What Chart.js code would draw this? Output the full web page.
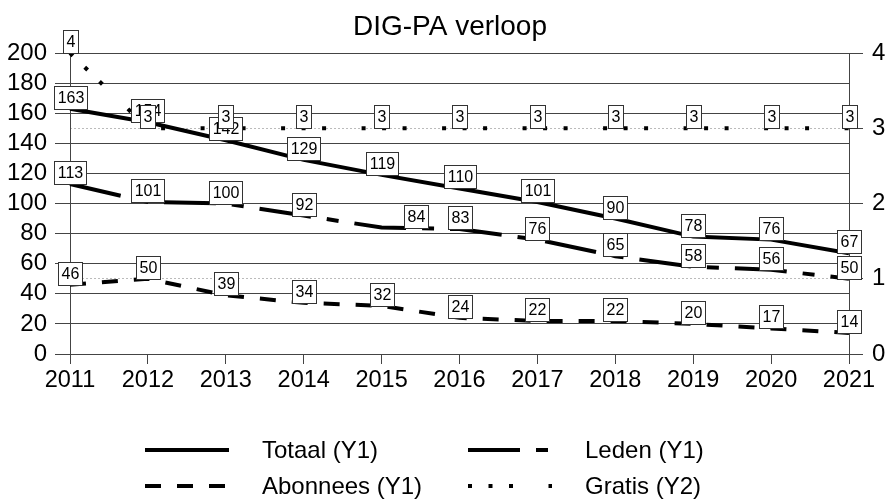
<!DOCTYPE html>
<html>
<head>
<meta charset="utf-8">
<script src="https://cdn.jsdelivr.net/npm/chart.js@4.4.1/dist/chart.umd.min.js"></script>
<style>
  html, body { margin: 0; padding: 0; background: #fff; }
  #wrap { width: 887px; height: 499px; }
</style>
</head>
<body>
<div id="wrap"><canvas id="myChart" width="887" height="499"></canvas></div>
<script>
// data
var years = ["2011", "2012", "2013", "2014", "2015", "2016", "2017", "2018", "2019", "2020", "2021"];
var totaal = [163, 154, 142, 129, 119, 110, 101, 90, 78, 76, 67];
var leden = [113, 101, 100, 92, 84, 83, 76, 65, 58, 56, 50];
var abonnees = [46, 50, 39, 34, 32, 24, 22, 22, 20, 17, 14];
var gratis = [4, 3, 3, 3, 3, 3, 3, 3, 3, 3, 3];
var leftTicks = [0, 20, 40, 60, 80, 100, 120, 140, 160, 180, 200];
var rightTicks = [0, 1, 2, 3, 4];

var FONT = '"Liberation Sans", Arial, sans-serif';
var GRID = '#444';

// one value label is nudged sideways in the original
var labelShift = { 'Leden (Y1)': { 4: 34 } };

var boxLabels = {
    id: 'boxLabels',
    afterDatasetsDraw: function (chart) {
        var ctx = chart.ctx;
        ctx.save();
        ctx.font = '16px ' + FONT;
        ctx.textAlign = 'center';
        ctx.textBaseline = 'middle';
        chart.data.datasets.forEach(function (ds, i) {
            var meta = chart.getDatasetMeta(i);
            var shift = labelShift[ds.label] || {};
            meta.data.forEach(function (pt, j) {
                var txt = String(ds.data[j]);
                var w = Math.round(ctx.measureText(txt).width + 6);
                var h = 23;
                var x = Math.round(pt.x + (shift[j] || 0) - w / 2);
                var y = Math.round(pt.y - h);
                ctx.fillStyle = '#fff';
                ctx.fillRect(x, y, w, h);
                ctx.strokeStyle = '#333';
                ctx.lineWidth = 1;
                ctx.strokeRect(x + 0.5, y + 0.5, w, h);
                ctx.fillStyle = '#000';
                ctx.fillText(txt, x + w / 2 + 0.5, y + h / 2 + 1.5);
            });
        });
        ctx.restore();
    }
};

var bottomLegend = {
    id: 'bottomLegend',
    afterDraw: function (chart) {
        var ctx = chart.ctx;
        var cols = [145, 468];
        var rows = [450, 486];
        ctx.save();
        ctx.font = '24px ' + FONT;
        ctx.textBaseline = 'middle';
        ctx.textAlign = 'left';
        chart.data.datasets.forEach(function (ds, i) {
            var cx = cols[i % 2];
            var cy = rows[Math.floor(i / 2)];
            ctx.strokeStyle = '#000';
            ctx.lineWidth = ds.borderWidth;
            ctx.setLineDash(ds.borderDash || []);
            ctx.beginPath();
            ctx.moveTo(cx, cy);
            ctx.lineTo(cx + 84, cy);
            ctx.stroke();
            ctx.setLineDash([]);
            ctx.fillStyle = '#000';
            ctx.fillText(ds.label, cx + 117, cy + 1);
        });
        ctx.restore();
    }
};

var ctx = document.getElementById("myChart").getContext('2d');
var myChart = new Chart(ctx, {
    type: 'line',
    data: {
        labels: years,
        datasets: [{
            label: 'Totaal (Y1)',
            data: totaal,
            yAxisID: 'y',
            borderColor: '#000',
            borderWidth: 4,
            borderDash: []
        }, {
            label: 'Leden (Y1)',
            data: leden,
            yAxisID: 'y',
            borderColor: '#000',
            borderWidth: 4,
            borderDash: [52, 16, 12, 16]
        }, {
            label: 'Abonnees (Y1)',
            data: abonnees,
            yAxisID: 'y',
            borderColor: '#000',
            borderWidth: 4,
            borderDash: [16, 16]
        }, {
            label: 'Gratis (Y2)',
            data: gratis,
            yAxisID: 'y2',
            borderColor: '#000',
            borderWidth: 4,
            borderDash: [4, 16.5, 4, 16.5, 4, 35.5]
        }]
    },
    options: {
        responsive: false,
        animation: false,
        // negative right padding shifts the centred title a little to the right
        layout: { padding: { left: 0, right: -13, top: 0, bottom: 100 } },
        elements: {
            point: { radius: 0, hoverRadius: 0 },
            line: { tension: 0, borderCapStyle: 'butt', fill: false }
        },
        plugins: {
            legend: { display: false },
            tooltip: { enabled: false },
            title: {
                display: true,
                text: 'DIG-PA verloop',
                color: '#000',
                font: { family: FONT, size: 28, weight: 'normal' },
                padding: { top: 10, bottom: 9.4 }
            }
        },
        scales: {
            x: {
                offset: false,
                grid: { drawOnChartArea: false, drawTicks: true, tickLength: 10, tickColor: GRID },
                border: { color: GRID, width: 1 },
                ticks: { color: '#000', padding: 2, maxRotation: 0, autoSkip: false, font: { family: FONT, size: 23.5 } },
                afterFit: function (s) { s.height = 45; }
            },
            y: {
                position: 'left',
                min: 0,
                max: 200,
                afterBuildTicks: function (s) { s.ticks = leftTicks.map(function (v) { return { value: v }; }); },
                grid: { color: GRID, tickColor: GRID, tickLength: 15 },
                border: { color: GRID, width: 1 },
                ticks: { color: '#000', padding: 8, autoSkip: false, font: { family: FONT, size: 24 } },
                afterFit: function (s) { s.width = 70; }
            },
            y2: {
                position: 'right',
                min: 0,
                max: 4,
                afterBuildTicks: function (s) { s.ticks = rightTicks.map(function (v) { return { value: v }; }); },
                grid: {
                    color: function (c) { return c.tick && c.tick.value % 2 === 1 ? '#bbb' : 'rgba(0,0,0,0)'; },
                    tickColor: GRID,
                    tickLength: 14
                },
                border: { color: GRID, width: 1, dash: [2, 2] },
                ticks: { color: '#000', padding: 9, autoSkip: false, font: { family: FONT, size: 24 } },
                afterFit: function (s) { s.width = 51; }
            }
        }
    },
    plugins: [boxLabels, bottomLegend]
});
</script>
</body>
</html>
